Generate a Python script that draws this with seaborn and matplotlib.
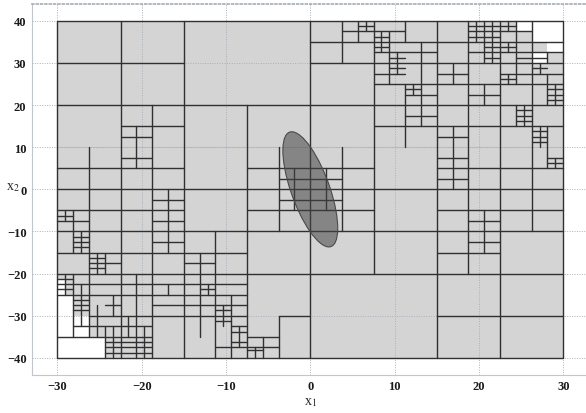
import numpy as np
import pandas as pd
import matplotlib
matplotlib.use("Agg")
import matplotlib.pyplot as plt
from matplotlib.patches import Ellipse, Rectangle
import seaborn as sns

# search box
x_box = [-30, 30]
y_box = [-40, 40]

# horizontal cuts: (y, x_start, x_end)
h_cuts = [
    (0, -30, 30), (20, -30, 30), (-20, -30, 30), (-10, -30, 30),
    # upper left
    (30, -30, -15), (15, -22.5, -15), (12.5, -22.5, -18.75), (7.5, -22.5, -18.75),
    (5, -30, -15), (5, -7.5, 7.5), (2.5, -3.75, 3.75),
    # upper right
    (35, 0, 30), (30, 0, 30), (37.5, 3.75, 11.25), (38.75, 5.625, 7.5),
    (36.25, 7.5, 9.375), (33.75, 7.5, 9.375), (32.5, 7.5, 15),
    (31.25, 9.375, 11.25), (28.75, 9.375, 11.25), (27.5, 7.5, 11.25),
    (25, 7.5, 30), (23.75, 11.25, 13.125), (22.5, 11.25, 15), (17.5, 11.25, 15),
    (15, 7.5, 30), (27.5, 15, 18.75),
    (38.75, 18.75, 24.375), (37.5, 18.75, 26.25), (36.25, 18.75, 22.5),
    (33.75, 20.625, 24.375), (32.5, 18.75, 30), (31.25, 20.625, 22.5),
    (31.25, 24.375, 28.125), (28.75, 26.25, 28.125), (27.5, 22.5, 30),
    (26.25, 22.5, 24.375), (22.5, 18.75, 22.5), (23.75, 28.125, 30),
    (22.5, 28.125, 30), (21.25, 28.125, 30), (18.75, 24.375, 26.25),
    (17.5, 24.375, 26.25), (16.25, 24.375, 26.25), (13.75, 26.25, 28.125),
    (12.5, 26.25, 28.125), (11.25, 26.25, 28.125), (12.5, 15, 18.75),
    (7.5, 15, 18.75), (2.5, 15, 18.75), (5, 15, 30), (7.5, 28.125, 30),
    (6.25, 28.125, 30),
    # lower right
    (-5, 0, 7.5), (-2.5, -3.75, 3.75), (-5, 15, 30), (-7.5, 18.75, 22.5),
    (-12.5, 18.75, 22.5), (-15, 15, 22.5), (-30, 15, 30),
    # lower left
    (-5, -30, -15), (-5, -7.5, 0), (-2.5, -18.75, -15), (-7.5, -30, -26.25),
    (-7.5, -18.75, -15), (-6.25, -30, -28.125), (-11.25, -28.125, -26.25),
    (-12.5, -28.125, -26.25), (-13.75, -28.125, -26.25), (-12.5, -18.75, -15),
    (-15, -30, -7.5), (-16.25, -26.25, -24.375), (-17.5, -26.25, -22.5),
    (-18.75, -26.25, -24.375), (-17.5, -15, -11.25), (-21.25, -30, -28.125),
    (-22.5, -30, -7.5), (-23.75, -30, -28.125), (-23.75, -13.125, -11.25),
    (-25, -30, -7.5), (-26.25, -28.125, -26.25), (-27.5, -28.125, -26.25),
    (-28.75, -28.125, -26.25), (-27.5, -24.375, -22.5), (-27.5, -18.75, -15),
    (-27.5, -15, -7.5), (-28.75, -11.25, -9.375), (-31.25, -11.25, -9.375),
    (-30, -26.25, -7.5), (-30, -3.75, 0), (-32.5, -28.125, -26.25),
    (-32.5, -26.25, -18.75), (-32.5, -9.375, -7.5), (-33.75, -9.375, -7.5),
    (-36.25, -9.375, -7.5), (-35, -30, -18.75), (-35, -7.5, -3.75),
    (-36.25, -24.375, -18.75), (-37.5, -24.375, -18.75), (-38.75, -24.375, -18.75),
    (-37.5, -11.25, -3.75), (-38.125, -7.5, -5.625),
]

# vertical cuts: (x, y_start, y_end)
v_cuts = [
    (-22.5, -40, 40), (-15, -40, 40), (0, -40, 40), (15, -40, 40),
    (-18.75, -40, 20), (-20.625, 5, 15), (-26.25, -35, 10), (-16.875, -15, 0),
    (-7.5, -40, 20), (-3.75, -10, 10), (-1.875, -5, 5), (1.875, -5, 5),
    (3.75, -10, 10), (3.75, 30, 40), (5.625, 35, 40), (6.5625, 37.5, 40),
    (7.5, -20, 40), (8.4375, 32.5, 37.5), (9.375, 25, 37.5), (10.3125, 27.5, 32.5),
    (11.25, 10, 25), (11.25, 35, 40), (12.1875, 22.5, 25), (13.125, 15, 35),
    (16.875, 25, 30), (16.875, 0, 15), (18.75, -20, 40),
    (19.6875, 35, 40), (20.625, 35, 40), (21.5625, 35, 40), (20.625, 30, 35),
    (21.5625, 30, 35), (20.625, 20, 25), (20.625, -15, -5), (22.5, -40, 40),
    (23.4375, 37.5, 40), (23.4375, 32.5, 35), (23.4375, 25, 27.5), (24.375, 25, 40),
    (24.375, 15, 20), (25.3125, 15, 20), (26.25, -10, 40), (27.1875, 27.5, 30),
    (27.1875, 10, 15), (28.125, 30, 32.5), (28.125, 20, 27.5), (28.125, 5, 15),
    (29.0625, 20, 25), (29.0625, 5, 7.5),
    (-29.0625, -7.5, -5), (-28.125, -15, -5), (-27.1875, -15, -10),
    (-25.3125, -20, -15), (-24.375, -20, -15), (-29.0625, -25, -20),
    (-28.125, -35, -20), (-27.1875, -32.5, -22.5), (-23.4375, -30, -25),
    (-25.3125, -35, -27.5), (-24.375, -40, -32.5), (-23.4375, -40, -32.5),
    (-20.625, -40, -20), (-21.5625, -35, -30), (-19.6875, -40, -32.5),
    (-16.875, -25, -22.5), (-13.125, -35, -15), (-12.1875, -25, -22.5),
    (-11.25, -40, -10), (-10.3125, -32.5, -27.5), (-9.375, -40, -25),
    (-8.4375, -37.5, -32.5), (-5.625, -40, -35), (-6.5625, -40, -37.5),
    (-3.75, -40, -30),
]

# faint first-level cut
faint_cuts = [(10, -30, 30)]

# excluded (white) boxes: (x0, x1, y0, y1)
white_boxes = [
    (-30, -26.25, -40, -35), (-30, -28.125, -35, -25), (-28.125, -26.25, -35, -32.5),
    (-26.25, -24.375, -40, -35), (-28.125, -26.25, -32.5, -30),
    (-30, -29.0625, -25, -21.25),
    (26.25, 30, 35, 40), (24.375, 26.25, 37.5, 40), (28.125, 30, 32.5, 35),
    (26.25, 28.125, 30, 32.5),
]

# confidence ellipse
ell_center = (0.0, 0.0)
ell_width = 4.74
ell_height = 27.7
ell_angle = 9.4

x_ticks = [-30, -20, -10, 0, 10, 20, 30]
y_ticks = [-40, -30, -20, -10, 0, 10, 20, 30, 40]

sns.set_theme(style="white")
plt.rcParams["font.family"] = ["Liberation Serif", "DejaVu Serif"]
plt.rcParams["mathtext.fontset"] = "stix"

fig = plt.figure(figsize=(5.86, 4.14), dpi=100)
ax = fig.add_axes([32 / 586, 38.3 / 414, 556.6 / 586, 370.7 / 414])

ax.add_patch(Rectangle((x_box[0], y_box[0]), x_box[1] - x_box[0], y_box[1] - y_box[0],
                       facecolor="#d4d4d4", edgecolor="none", zorder=1))
for x0, x1, y0, y1 in white_boxes:
    ax.add_patch(Rectangle((x0, y0), x1 - x0, y1 - y0, facecolor="white",
                           edgecolor="none", zorder=1.1))

# segments as a long table for seaborn
rows = []
seg = 0
for y, xa, xb in h_cuts:
    rows += [(seg, xa, y), (seg, xb, y)]
    seg += 1
for x, ya, yb in v_cuts:
    rows += [(seg, x, ya), (seg, x, yb)]
    seg += 1
border = [(x_box[0], y_box[0]), (x_box[1], y_box[0]), (x_box[1], y_box[1]),
          (x_box[0], y_box[1]), (x_box[0], y_box[0])]
for px, py in border:
    rows.append((seg, px, py))
segs = pd.DataFrame(rows, columns=["seg", "x", "y"])

for y, xa, xb in faint_cuts:
    ax.plot([xa, xb], [y, y], color="#e0b8a8", lw=0.8, zorder=2)

sns.lineplot(data=segs, x="x", y="y", units="seg", estimator=None, sort=False,
             color="#303030", lw=1.0, ax=ax, zorder=3)

ax.add_patch(Ellipse(ell_center, ell_width, ell_height, angle=ell_angle,
                     facecolor="#444444", alpha=0.55, edgecolor="none", zorder=4))
ax.add_patch(Ellipse(ell_center, ell_width, ell_height, angle=ell_angle,
                     facecolor="none", edgecolor="#4a4a4a", lw=0.8, zorder=4))

ax.set_xlim(-33, 33)
ax.set_ylim(-44, 44)
ax.set_xticks(x_ticks)
ax.set_yticks(y_ticks)
ax.grid(True, linestyle=(0, (1, 1.5)), color="#a8b0b8", lw=0.7)
ax.set_axisbelow(False)
for gl in ax.get_xgridlines() + ax.get_ygridlines():
    gl.set_zorder(2.5)

for side in ["left", "bottom"]:
    ax.spines[side].set_color("#c0c6cc")
    ax.spines[side].set_linewidth(0.8)
ax.spines["top"].set_linestyle((0, (1, 1.5)))
ax.spines["top"].set_color("#a8b0b8")
ax.spines["right"].set_visible(False)

ax.tick_params(axis="both", length=0, labelsize=9, pad=4, colors="#1a1a1a")
for lab in ax.get_xticklabels() + ax.get_yticklabels():
    lab.set_fontweight("semibold")
ax.set_xlabel("x$_1$", fontsize=10, labelpad=2)
ax.set_ylabel("x$_2$", fontsize=10, rotation=0, labelpad=6)
ax.yaxis.set_label_coords(-0.035, 0.49)

fig.savefig("out.png", dpi=100)
